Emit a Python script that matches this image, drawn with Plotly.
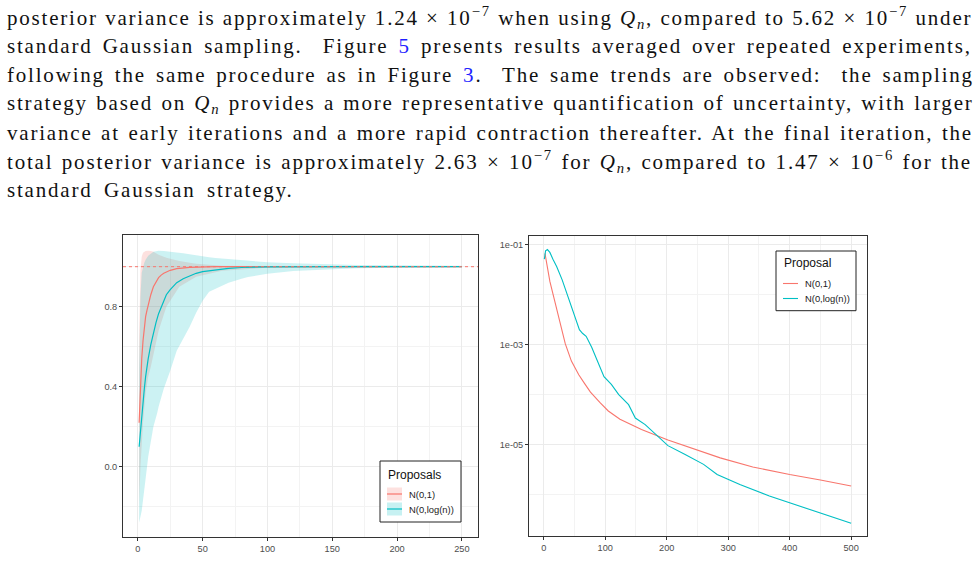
import plotly.graph_objects as go

W, H = 976, 582
RED = "#F8766D"
CYAN = "#00BFC4"

# ---------------- text ----------------
TEXT_LINES = [
    "posterior variance is approximately 1.24 × 10<sup>−7</sup> when using <i>Q<sub>n</sub></i>, compared to 5.62 × 10<sup>−7</sup> under",
    "standard Gaussian sampling.  Figure <span style='color:#1f1fff'>5</span> presents results averaged over repeated experiments,",
    "following the same procedure as in Figure <span style='color:#1f1fff'>3</span>.  The same trends are observed:  the sampling",
    "strategy based on <i>Q<sub>n</sub></i> provides a more representative quantification of uncertainty, with larger",
    "variance at early iterations and a more rapid contraction thereafter. At the final iteration, the",
    "total posterior variance is approximately 2.63 × 10<sup>−7</sup> for <i>Q<sub>n</sub></i>, compared to 1.47 × 10<sup>−6</sup> for the",
    "standard Gaussian strategy.",
]
TEXT_BASELINES = [24, 52.8, 81.6, 110.4, 139.2, 168, 196.8]
TEXT_WORD_SPACING = [0.25, 3.05, 2.95, 1.3, 1.55, 1.45, 4.5]
TEXT_LETTER_SPACING = 1.8

# ---------------- left panel data ----------------
TARGET = 1.0
red_x = [1, 2, 3, 4, 5, 6, 7, 8, 10, 12, 14, 16, 18, 20, 25, 30, 40, 50, 60, 80, 100, 150, 200, 250]
red_mean = [0.22, 0.40, 0.54, 0.63, 0.70, 0.75, 0.78, 0.81, 0.86, 0.90, 0.925, 0.945, 0.958, 0.967,
            0.982, 0.99, 0.997, 0.999, 1.0, 1.0, 1.0, 1.0, 1.0, 1.0]
red_band_x = [1, 2, 3, 4, 6, 8, 10, 12, 16, 22, 32, 45, 65, 100, 150, 250]
red_upper = [0.65, 0.98, 1.05, 1.07, 1.078, 1.08, 1.078, 1.075, 1.06, 1.045, 1.028, 1.015, 1.005, 1.002, 1.001, 1.0]
red_lower = [-0.2, 0.0, 0.12, 0.22, 0.37, 0.45, 0.50, 0.55, 0.68, 0.80, 0.90, 0.95, 0.98, 0.995, 0.999, 1.0]

cyan_x = [1, 2, 3, 4, 5, 6, 7, 8, 10, 12, 14, 16, 18, 20, 22, 25, 30, 35, 40, 45, 50, 60, 70, 80,
          100, 150, 200, 250]
cyan_mean = [0.10, 0.18, 0.26, 0.33, 0.39, 0.45, 0.50, 0.54, 0.61, 0.67, 0.72, 0.765, 0.80, 0.83,
             0.86, 0.885, 0.92, 0.94, 0.955, 0.967, 0.975, 0.985, 0.992, 0.996, 0.999, 1.0, 1.0, 1.0]
cyan_band_x = [1, 2, 3, 4, 5, 6, 8, 10, 12, 15, 16, 20, 25, 30, 35, 40, 45, 50, 55, 60, 70, 80, 85,
               90, 100, 120, 130, 140, 160, 170, 200, 250]
cyan_upper = [0.50, 0.85, 0.97, 1.0, 1.02, 1.035, 1.055, 1.065, 1.075, 1.078, 1.08, 1.078, 1.075,
              1.072, 1.067, 1.062, 1.056, 1.05, 1.047, 1.043, 1.038, 1.031, 1.028, 1.026, 1.022,
              1.017, 1.015, 1.013, 1.01, 1.009, 1.007, 1.005]
cyan_lower = [-0.28, -0.25, -0.22, -0.18, -0.12, -0.06, 0.05, 0.13, 0.20, 0.27, 0.30, 0.39, 0.48,
              0.58, 0.64, 0.70, 0.77, 0.83, 0.875, 0.89, 0.92, 0.94, 0.948, 0.955, 0.965, 0.978,
              0.982, 0.985, 0.99, 0.992, 0.996, 0.998]

# ---------------- right panel data ----------------
r_red_x = [2, 5, 10, 15, 20, 25, 30, 35, 45, 57, 66, 76, 92, 105, 124, 159, 202, 250, 287, 340, 400, 450, 500]
r_red_y = [6.8e-2, 4.0e-2, 1.86e-2, 1.05e-2, 5.9e-3, 3.2e-3, 1.8e-3, 1.05e-3, 4.7e-4, 2.5e-4, 1.7e-4,
           1.12e-4, 6.8e-5, 4.7e-5, 3.2e-5, 2.0e-5, 1.23e-5, 7.6e-6, 5.4e-6, 3.55e-6, 2.5e-6, 1.95e-6, 1.47e-6]
r_cyan_x = [1, 3, 6, 10, 15, 21, 30, 42, 50, 58, 63, 69, 78, 85, 98, 110, 122, 138, 143, 149, 165, 186,
            202, 230, 260, 282, 319, 367, 404, 447, 500]
r_cyan_y = [5.2e-2, 7.6e-2, 8.1e-2, 7.1e-2, 5.2e-2, 3.7e-2, 2.0e-2, 7.4e-3, 4.0e-3, 2.0e-3, 1.7e-3,
            1.48e-3, 8.9e-4, 5.4e-4, 2.3e-4, 1.6e-4, 1.0e-4, 6.3e-5, 4.6e-5, 3.4e-5, 2.5e-5, 1.48e-5,
            9.5e-6, 6.3e-6, 4.0e-6, 2.5e-6, 1.58e-6, 9.3e-7, 6.6e-7, 4.3e-7, 2.63e-7]

LEFT_XTICKS = [0, 50, 100, 150, 200, 250]
LEFT_YTICKS = [0.0, 0.4, 0.8]
LEFT_YTICKTEXT = ["0.0", "0.4", "0.8"]
RIGHT_XTICKS = [0, 100, 200, 300, 400, 500]
RIGHT_YTICKS = [1e-5, 1e-3, 1e-1]
RIGHT_YTICKTEXT = ["1e-05", "1e-03", "1e-01"]
RIGHT_YMINOR = [1e-6, 1e-4, 1e-2]

LEGEND_LEFT_TITLE = "Proposals"
LEGEND_RIGHT_TITLE = "Proposal"
SERIES_NAMES = ["N(0,1)", "N(0,log(n))"]


def px(x):
    return x / W


def py(y):
    return 1 - y / H


def rgba(hexc, a):
    h = hexc.lstrip("#")
    return "rgba(%d,%d,%d,%s)" % (int(h[0:2], 16), int(h[2:4], 16), int(h[4:6], 16), a)


fig = go.Figure()

# bands
fig.add_trace(go.Scatter(x=red_band_x + red_band_x[::-1], y=red_upper + red_lower[::-1],
                         fill="toself", fillcolor=rgba(RED, 0.22), line=dict(width=0),
                         mode="lines", hoverinfo="skip", showlegend=False, xaxis="x", yaxis="y"))
fig.add_trace(go.Scatter(x=cyan_band_x + cyan_band_x[::-1], y=cyan_upper + cyan_lower[::-1],
                         fill="toself", fillcolor=rgba(CYAN, 0.2), line=dict(width=0),
                         mode="lines", hoverinfo="skip", showlegend=False, xaxis="x", yaxis="y"))
fig.add_trace(go.Scatter(x=red_x, y=red_mean, mode="lines", line=dict(color=RED, width=1.2),
                         name=SERIES_NAMES[0], showlegend=False, xaxis="x", yaxis="y"))
fig.add_trace(go.Scatter(x=cyan_x, y=cyan_mean, mode="lines", line=dict(color=CYAN, width=1.2),
                         name=SERIES_NAMES[1], showlegend=False, xaxis="x", yaxis="y"))

# right panel
fig.add_trace(go.Scatter(x=r_red_x, y=r_red_y, mode="lines", line=dict(color=RED, width=1.1),
                         name=SERIES_NAMES[0], showlegend=False, xaxis="x2", yaxis="y2"))
fig.add_trace(go.Scatter(x=r_cyan_x, y=r_cyan_y, mode="lines", line=dict(color=CYAN, width=1.1),
                         name=SERIES_NAMES[1], showlegend=False, xaxis="x2", yaxis="y2"))

axis_common = dict(showline=True, mirror=True, linecolor="#333333", linewidth=1,
                   gridcolor="#EBEBEB", gridwidth=1, zeroline=False,
                   ticks="outside", ticklen=3, tickcolor="#333333", tickwidth=1,
                   tickfont=dict(family="Liberation Sans, Arial", size=9.2, color="#4D4D4D"))

fig.update_layout(
    width=W, height=H, margin=dict(l=0, r=0, t=0, b=0),
    paper_bgcolor="white", plot_bgcolor="white", showlegend=False,
    xaxis=dict(domain=[px(123), px(478)], range=[-11.45, 262.45], anchor="y",
               tickvals=LEFT_XTICKS, minor=dict(dtick=25, tick0=0, showgrid=True, gridcolor="#F3F3F3", ticks=""),
               **axis_common),
    yaxis=dict(domain=[py(537), py(235)], range=[-0.3515, 1.1585], anchor="x",
               tickvals=LEFT_YTICKS, ticktext=LEFT_YTICKTEXT,
               minor=dict(dtick=0.4, tick0=0.2, showgrid=True, gridcolor="#F3F3F3", ticks=""),
               **axis_common),
    xaxis2=dict(domain=[px(529), px(866.5)], range=[-23.95, 524.95], anchor="y2",
                tickvals=RIGHT_XTICKS, minor=dict(dtick=50, tick0=0, showgrid=True, gridcolor="#F3F3F3", ticks=""),
                **axis_common),
    yaxis2=dict(domain=[py(536), py(235.7)], type="log", range=[-6.834, -0.814], anchor="x2",
                tickvals=RIGHT_YTICKS, ticktext=RIGHT_YTICKTEXT,
                minor=dict(tickvals=RIGHT_YMINOR, showgrid=True, gridcolor="#F3F3F3", ticks=""),
                **axis_common),
)

shapes = []
# reference line at target
shapes.append(dict(type="line", xref="x domain", yref="y", x0=0, x1=1, y0=TARGET, y1=TARGET,
                   line=dict(color=RED, width=1, dash="dot"), layer="above"))

annotations = []
for txt, base, ws in zip(TEXT_LINES, TEXT_BASELINES, TEXT_WORD_SPACING):
    styled = "<span style='letter-spacing:%.2fpx;word-spacing:%.2fpx'>%s</span>" % (TEXT_LETTER_SPACING, ws, txt)
    annotations.append(dict(text=styled, xref="paper", yref="paper", x=px(5), y=py(base - 6.5),
                            xanchor="left", yanchor="middle", showarrow=False,
                            font=dict(family="Liberation Serif", size=21, color="#111111")))

legfont = dict(family="Liberation Sans, Arial", size=9.4, color="#222222")
titlefont = dict(family="Liberation Sans, Arial", size=12, color="#111111")

# left legend box
shapes.append(dict(type="rect", xref="paper", yref="paper", x0=px(380), x1=px(461), y0=py(522), y1=py(461),
                   line=dict(color="#222222", width=1), fillcolor="white", layer="above"))
annotations.append(dict(text=LEGEND_LEFT_TITLE, xref="paper", yref="paper", x=px(386), y=py(475),
                        xanchor="left", yanchor="middle", showarrow=False, font=titlefont))
for i, (name, col) in enumerate(zip(SERIES_NAMES, [RED, CYAN])):
    cy = [494, 509][i]
    shapes.append(dict(type="rect", xref="paper", yref="paper", x0=px(387), x1=px(402), y0=py(cy + 6.5),
                       y1=py(cy - 6.5), line=dict(width=0), fillcolor=rgba(col, 0.22), layer="above"))
    shapes.append(dict(type="line", xref="paper", yref="paper", x0=px(387), x1=px(402), y0=py(cy), y1=py(cy),
                       line=dict(color=col, width=1.2), layer="above"))
    annotations.append(dict(text=name, xref="paper", yref="paper", x=px(407), y=py(cy),
                            xanchor="left", yanchor="middle", showarrow=False, font=legfont))

# right legend box
shapes.append(dict(type="rect", xref="paper", yref="paper", x0=px(776), x1=px(856), y0=py(310.7), y1=py(251),
                   line=dict(color="#222222", width=1), fillcolor="white", layer="above"))
annotations.append(dict(text=LEGEND_RIGHT_TITLE, xref="paper", yref="paper", x=px(781.5), y=py(263.5),
                        xanchor="left", yanchor="middle", showarrow=False, font=titlefont))
for i, (name, col) in enumerate(zip(SERIES_NAMES, [RED, CYAN])):
    cy = [283.5, 298.5][i]
    shapes.append(dict(type="line", xref="paper", yref="paper", x0=px(783), x1=px(798), y0=py(cy), y1=py(cy),
                       line=dict(color=col, width=1.1), layer="above"))
    annotations.append(dict(text=name, xref="paper", yref="paper", x=px(802.5), y=py(cy),
                            xanchor="left", yanchor="middle", showarrow=False, font=legfont))

fig.update_layout(shapes=shapes, annotations=annotations)
fig.write_html("out.html")
